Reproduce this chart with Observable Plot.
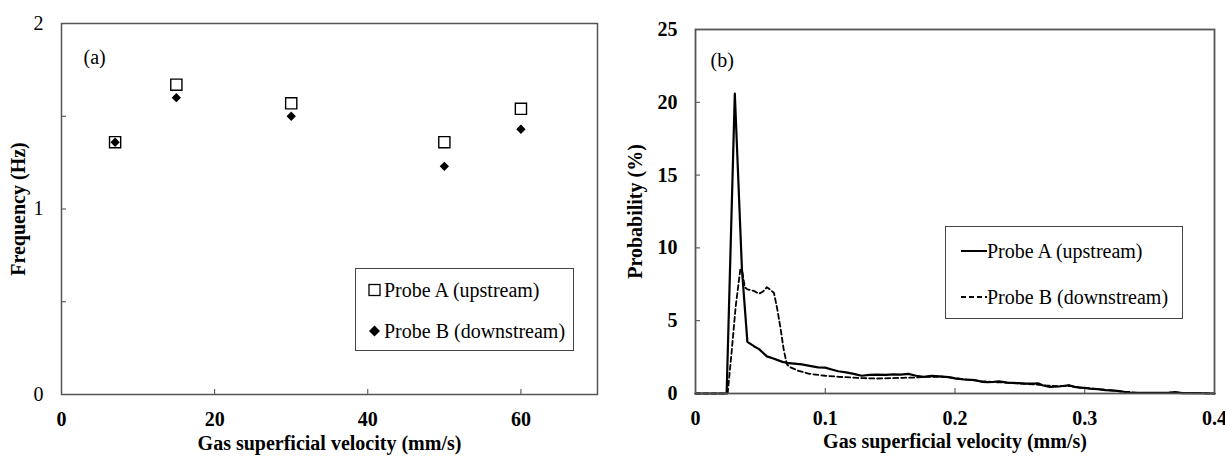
<!DOCTYPE html>
<html>
<head>
<meta charset="utf-8">
<script src="https://cdn.jsdelivr.net/npm/d3@7"></script>
<script src="https://cdn.jsdelivr.net/npm/@observablehq/plot@0.6"></script>
<style>
  html, body { margin: 0; padding: 0; background: #fff; }
  #wrap { position: relative; width: 1225px; height: 456px; overflow: hidden; font-family: "Liberation Serif", "Tinos", "Times New Roman", "DejaVu Serif Condensed", "DejaVu Serif", serif; }
  .panel { position: absolute; top: 0; }
  .panel svg, .panel svg text { font-family: "Liberation Serif", "Tinos", "Times New Roman", "DejaVu Serif Condensed", "DejaVu Serif", serif !important; }
  .legend { position: absolute; background: #fff; border: 1px solid #444; box-sizing: border-box; font-size: 20px; color: #000; }
  .legend .item { position: absolute; left: 0; display: flex; align-items: center; white-space: nowrap; }
  .legend svg { display: block; }
  g[aria-label="y-axis label"] text, g[aria-label="x-axis label"] text { font-weight: bold; }
</style>
</head>
<body>
<div id="wrap">
  <div id="pa" class="panel" style="left:0px"></div>
  <div id="pb" class="panel" style="left:612px"></div>
</div>
<script>
// ---------- Panel (a) data ----------
const velocityA = [7, 15, 30, 50, 60];
const freqProbeA = [1.36, 1.67, 1.57, 1.36, 1.54];
const freqProbeB = [1.36, 1.60, 1.50, 1.23, 1.43];
const xTicksA = [0, 20, 40, 60];
const yTicksA = [0, 1, 2];
const yMinorA = [0, 0.5, 1, 1.5, 2];

// ---------- Panel (b) data ----------
const probAx = [0, 0.024, 0.0303, 0.0358, 0.040, 0.045, 0.049, 0.052, 0.055, 0.060, 0.067, 0.072, 0.076, 0.082, 0.088, 0.0945, 0.100, 0.105, 0.110, 0.116, 0.122, 0.128, 0.134, 0.140, 0.147, 0.152, 0.158, 0.164, 0.170, 0.176, 0.182, 0.188, 0.195, 0.201, 0.207, 0.213, 0.216, 0.221, 0.225, 0.230, 0.234, 0.240, 0.249, 0.255, 0.261, 0.264, 0.268, 0.273, 0.280, 0.286, 0.288, 0.292, 0.295, 0.300, 0.304, 0.310, 0.316, 0.320, 0.325, 0.330, 0.334, 0.340, 0.350, 0.358, 0.365, 0.370, 0.375, 0.385, 0.400];
const probAy = [0, 0, 20.6, 8.5, 3.55, 3.25, 3.05, 2.8, 2.55, 2.4, 2.17, 2.08, 2.05, 2.0, 1.9, 1.8, 1.78, 1.65, 1.53, 1.45, 1.35, 1.22, 1.28, 1.30, 1.28, 1.32, 1.30, 1.35, 1.22, 1.14, 1.21, 1.18, 1.12, 1.02, 0.96, 0.93, 0.91, 0.80, 0.78, 0.80, 0.84, 0.75, 0.71, 0.68, 0.68, 0.70, 0.55, 0.46, 0.48, 0.55, 0.57, 0.45, 0.41, 0.38, 0.34, 0.30, 0.23, 0.22, 0.18, 0.12, 0.07, 0.05, 0.05, 0.04, 0.06, 0.10, 0.03, 0.02, 0.0];
const probBx = [0, 0.0248, 0.028, 0.031, 0.0345, 0.036, 0.038, 0.040, 0.045, 0.049, 0.052, 0.055, 0.058, 0.0605, 0.063, 0.0655, 0.068, 0.0705, 0.073, 0.0795, 0.088, 0.095, 0.100, 0.110, 0.120, 0.130, 0.140, 0.150, 0.160, 0.170, 0.180, 0.190, 0.195, 0.205, 0.215, 0.220, 0.230, 0.240, 0.250, 0.260, 0.270, 0.280, 0.290, 0.300, 0.310, 0.320, 0.330, 0.335, 0.340, 0.360, 0.380, 0.400];
const probBy = [0, 0, 3.0, 6.0, 8.5, 8.4, 7.3, 7.15, 7.05, 6.85, 7.0, 7.3, 7.1, 6.9, 5.8, 4.5, 3.0, 2.0, 1.8, 1.55, 1.35, 1.27, 1.22, 1.15, 1.10, 1.05, 1.03, 1.05, 1.08, 1.10, 1.15, 1.15, 1.12, 1.0, 0.9, 0.85, 0.78, 0.75, 0.68, 0.63, 0.55, 0.50, 0.50, 0.38, 0.30, 0.22, 0.12, 0.10, 0.05, 0.04, 0.04, 0.0];
const xTicksB = [0, 0.1, 0.2, 0.3, 0.4];
const xMinorB = [0.1, 0.2, 0.3];
const yTicksB = [0, 5, 10, 15, 20, 25];
const yMinorB = [5, 10, 15, 20];

const seriesNames = ["Probe A (upstream)", "Probe B (downstream)"];

const FONT = "'Liberation Serif', 'Tinos', 'Times New Roman', 'DejaVu Serif Condensed', 'DejaVu Serif', serif";
const fmt = d3.format("~g");

// ---------- Panel (a) ----------
const dataA = velocityA.map((v, i) => ({v, f: freqProbeA[i]}));
const dataB = velocityA.map((v, i) => ({v, f: freqProbeB[i]}));

const plotA = Plot.plot({
  width: 612, height: 456,
  marginLeft: 61, marginRight: 15, marginTop: 23, marginBottom: 62,
  style: {fontFamily: FONT, fontSize: "20px", color: "#000", background: "#fff", overflow: "visible"},
  x: {domain: [0, 70]},
  y: {domain: [0, 2]},
  marks: [
    Plot.axisX(xTicksA, {tickSize: -5, fill: "none", stroke: "#444"}),
    Plot.axisX(xTicksA, {tickSize: 0, tickPadding: 17, tickFormat: fmt, fontWeight: "bold", label: "Gas superficial velocity (mm/s)", labelAnchor: "center", labelOffset: 55, labelArrow: "none"}),
    Plot.axisY(yMinorA, {tickSize: -5, fill: "none", stroke: "#444"}),
    Plot.axisY(yTicksA, {tickSize: 0, tickPadding: 18, tickFormat: fmt, label: "Frequency (Hz)", labelAnchor: "center", labelOffset: 51, labelArrow: "none"}),
    Plot.frame({stroke: "#555", strokeWidth: 1.5}),
    Plot.text(["(a)"], {frameAnchor: "top-left", dx: 22, dy: 34, textAnchor: "start", lineAnchor: "middle", fontSize: 20}),
    Plot.dot(dataA, {x: "v", y: "f", symbol: "square", r: 6.3, stroke: "#000", strokeWidth: 1.4, fill: "none"}),
    Plot.dot(dataB, {x: "v", y: "f", symbol: "diamond2", r: 4.2, fill: "#000", stroke: "none"})
  ]
});
document.getElementById("pa").appendChild(plotA);

// ---------- Panel (b) ----------
const tableA = probAx.map((x, i) => ({x, y: probAy[i]}));
const tableB = probBx.map((x, i) => ({x, y: probBy[i]}));

const plotB = Plot.plot({
  width: 613, height: 456,
  marginLeft: 83, marginRight: 11, marginTop: 29, marginBottom: 63,
  style: {fontFamily: FONT, fontSize: "20px", color: "#000", background: "#fff", overflow: "visible"},
  x: {domain: [0, 0.4]},
  y: {domain: [0, 25]},
  marks: [
    Plot.axisX(xMinorB, {tickSize: -5, fill: "none", stroke: "#444"}),
    Plot.axisX(xTicksB, {tickSize: 0, tickPadding: 17, tickFormat: fmt, fontWeight: "bold", label: "Gas superficial velocity (mm/s)", labelAnchor: "center", labelOffset: 54, labelArrow: "none"}),
    Plot.axisY(yMinorB, {tickSize: -5, fill: "none", stroke: "#444"}),
    Plot.axisY(yTicksB, {tickSize: 0, tickPadding: 18, tickFormat: fmt, fontWeight: "bold", label: "Probability (%)", labelAnchor: "center", labelOffset: 68, labelArrow: "none"}),
    Plot.line(tableB, {x: "x", y: "y", stroke: "#000", strokeWidth: 1.8, strokeDasharray: "5,3"}),
    Plot.line(tableA, {x: "x", y: "y", stroke: "#000", strokeWidth: 2.2}),
    Plot.frame({stroke: "#555", strokeWidth: 1.8}),
    Plot.text(["(b)"], {frameAnchor: "top-left", dx: 15, dy: 31, textAnchor: "start", lineAnchor: "middle", fontSize: 20})
  ]
});
document.getElementById("pb").appendChild(plotB);

// ---------- Legends (HTML overlays) ----------
function addLegend(box, items) {
  const wrap = document.getElementById("wrap");
  const div = document.createElement("div");
  div.className = "legend";
  Object.assign(div.style, {left: box.left + "px", top: box.top + "px", width: box.width + "px", height: box.height + "px"});
  items.forEach((it) => {
    const row = document.createElement("div");
    row.className = "item";
    row.style.top = (it.cy - box.top - 13) + "px";
    row.style.left = it.dx + "px";
    row.style.height = "26px";
    row.innerHTML = it.icon + `<span>${it.label}</span>`;
    div.appendChild(row);
  });
  wrap.appendChild(div);
}

addLegend({left: 355, top: 268, width: 219, height: 83}, [
  {cy: 289, dx: 12, label: seriesNames[0], icon: `<svg width="16" height="14"><rect x="1" y="1.5" width="11" height="11" fill="none" stroke="#000" stroke-width="1.3"/></svg>`},
  {cy: 330, dx: 12, label: seriesNames[1], icon: `<svg width="16" height="14"><path d="M6.5,1.5L12,7L6.5,12.5L1,7Z" fill="#000"/></svg>`}
]);

addLegend({left: 945, top: 226, width: 238, height: 93}, [
  {cy: 250, dx: 15, label: seriesNames[0], icon: `<svg width="26" height="10"><line x1="0" y1="5" x2="26" y2="5" stroke="#000" stroke-width="2"/></svg>`},
  {cy: 296, dx: 15, label: seriesNames[1], icon: `<svg width="26" height="10"><line x1="0" y1="5" x2="26" y2="5" stroke="#000" stroke-width="1.8" stroke-dasharray="5,3"/></svg>`}
]);
</script>
</body>
</html>
